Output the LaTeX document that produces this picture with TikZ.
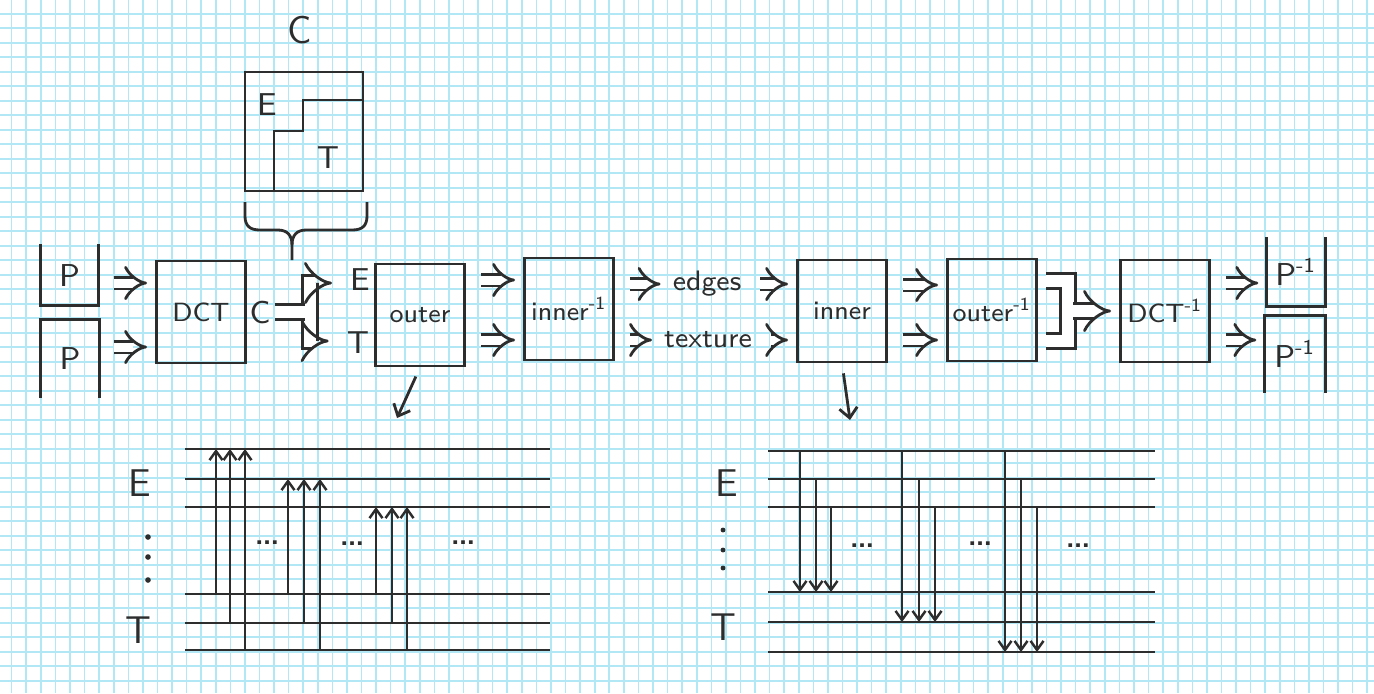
\documentclass[tikz,border=0pt]{standalone}
\usepackage{amsmath}
\usepackage{tikz}
\usetikzlibrary{arrows.meta,calc}
\definecolor{ink}{RGB}{45,45,45}
\definecolor{gridblue}{RGB}{178,232,245}

\begin{document}
\begin{tikzpicture}[x=0.01cm,y=-0.01cm,
    pen/.style={draw=ink, line width=0.8pt},
    box/.style={pen, minimum width=0.89cm, minimum height=1.02cm, inner sep=0pt, font=\sffamily\fontsize{7.5}{9}\selectfont, text=ink},
    openbox/.style={minimum width=0.57cm, minimum height=0.6cm, inner sep=0pt, font=\sffamily\fontsize{9}{11}\selectfont, text=ink},
    word/.style={inner sep=1pt, font=\sffamily\fontsize{8}{10}\selectfont, text=ink},
    dots/.style={inner sep=1pt, font=\sffamily\fontsize{13}{15}\selectfont, text=ink},
    letter/.style={inner sep=1pt, font=\sffamily\fontsize{9}{11}\selectfont, text=ink},
    bigletter/.style={inner sep=1pt, font=\sffamily\fontsize{11}{13}\selectfont, text=ink},
    dbl/.style={pen, double=white, double distance=0.09cm, -{Implies}, shorten <=0.15cm, shorten >=0.08cm},
    dblwide/.style={pen, double=white, double distance=0.12cm},
    thinarrow/.style={pen, -{Straight Barb[length=0.1cm,width=0.18cm]}, shorten <=0.1cm},
    tick/.style={draw=ink, line width=0.7pt, -{Straight Barb[length=0.09cm,width=0.13cm]}},
    rule/.style={draw=ink, line width=0.7pt},
    gridline/.style={draw=gridblue, line width=0.45pt},
]
    \useasboundingbox (0,0) rectangle (1374,693);
    \fill[white] (0,0) rectangle (1374,693);
    % squared paper
    \foreach \i in {0,...,93}
        \draw[gridline] ({11.7+14.575*\i},0) -- ({11.7+14.575*\i},693);
    \foreach \i in {0,...,46}
        \draw[gridline] (0,{13.7+14.5*\i}) -- (1374,{13.7+14.5*\i});

    % the coefficient block C
    \node[bigletter] (ctitle) at (300,30) {C};
    \node[pen, minimum width=1.18cm, minimum height=1.19cm] (cbox) at (304,131.5) {};
    \draw[pen] (274,191) -- (274,131) -- (303,131) -- (303,100) -- (cbox.east |- 0,100);
    \node[letter] (cboxE) at (267,105) {E};
    \node[letter] (cboxT) at (328,158) {T};
    \draw[pen] (245,202) -- (245,216) .. controls (245,226) and (250,230) .. (260,230) -- (278,230) .. controls (287,230) and (292,235) .. (292,245) -- (292,260);
    \draw[pen] (367,202) -- (367,216) .. controls (367,226) and (362,230) .. (352,230) -- (306,230) .. controls (297,230) and (292,235) .. (292,245);

    % main row
    \node[openbox] (pbox1) at (69.5,275) {P};
    \node[openbox, minimum height=0.77cm] (pbox2) at (70,358.5) {P};
    \draw[pen] (pbox1.north west) -- (pbox1.south west) -- (pbox1.south east) -- (pbox1.north east);
    \draw[pen] (pbox2.south west) -- (pbox2.north west) -- (pbox2.north east) -- (pbox2.south east);
    \node[box] (dct) at (201,312) {DCT};
    \node[letter] (cout) at (260,312) {C};
    \coordinate (split) at (310,312);
    \node[letter] (toE) at (360,280) {E};
    \node[letter] (toT) at (358,343) {T};
    \node[box] (outer) at (420,315) {outer};
    \node[box] (innerinv) at (569,309) {inner\textsuperscript{-1}};
    \node[word] (edges) at (707,284) {edges};
    \node[word] (texture) at (708,340) {texture};
    \node[box] (inner) at (842,311) {inner};
    \node[box] (outerinv) at (992,310) {outer\textsuperscript{-1}};
    \coordinate (merge) at (1068,311);
    \node[box] (dctinv) at (1165,311) {DCT\textsuperscript{-1}};
    \node[openbox, minimum width=0.58cm, minimum height=0.68cm] (pinv1) at (1296,272) {P\textsuperscript{-1}};
    \node[openbox, minimum width=0.6cm, minimum height=0.76cm] (pinv2) at (1295,354) {P\textsuperscript{-1}};
    \draw[pen] (pinv1.north west) -- (pinv1.south west) -- (pinv1.south east) -- (pinv1.north east);
    \draw[pen] (pinv2.south west) -- (pinv2.north west) -- (pinv2.north east) -- (pinv2.south east);

    \draw[dbl] (pbox1.east |- 0,283) -- (dct.west |- 0,283);
    \draw[dbl] (pbox2.east |- 0,347) -- (dct.west |- 0,347);
    \draw[dblwide, {Implies}-{Implies}, shorten <=0.14cm, shorten >=0.14cm] (toE.west |- 0,283) -| (split) |- (toT.west |- 0,341);
    \draw[dblwide, shorten >=0.055cm] (cout.east) -- (split);
    \draw[dbl] (outer.east |- 0,280) -- (innerinv.west |- 0,280);
    \draw[dbl] (outer.east |- 0,340) -- (innerinv.west |- 0,340);
    \draw[dbl] (innerinv.east |- edges) -- (edges.west);
    \draw[dbl] (innerinv.east |- texture) -- (texture.west);
    \draw[dbl] (edges.east) -- (inner.west |- edges);
    \draw[dbl] (texture.east) -- (inner.west |- texture);
    \draw[dbl] (inner.east |- 0,285) -- (outerinv.west |- 0,285);
    \draw[dbl] (inner.east |- 0,340) -- (outerinv.west |- 0,340);
    \draw[dblwide, shorten <=0.08cm, shorten >=0.08cm] (outerinv.east |- 0,281) -| (merge) |- (outerinv.east |- 0,341);
    \draw[dblwide, -{Implies}, shorten >=0.08cm] ($(merge)+(5,0)$) -- (dctinv.west);
    \draw[dbl] (dctinv.east |- 0,283) -- (pinv1.west |- 0,283);
    \draw[dbl] (dctinv.east |- 0,340) -- (pinv2.west |- 0,340);

    % outer transform, bottom left
    \coordinate (outerdown) at (397,418);
    \draw[thinarrow] (outer.south) -- (outerdown);
    \foreach \y [count=\i] in {449,479,507,594,623,650}
        \draw[rule] (185,\y) coordinate (ol\i) -- (550,\y);
    \node[bigletter] (olE) at (140,483) {E};
    \node[bigletter] (olT) at (138,630) {T};
    \foreach \y in {537,557,580}
        \fill[ink] (148,\y) circle (0.8pt);
    \foreach \x/\a/\b in {216/4/1,230/5/1,245/6/1,288/4/2,304/5/2,320/6/2,376/4/3,392/5/3,407/6/3}
        \draw[tick] (\x,0 |- ol\a) -- (\x,0 |- ol\b);
    \node[dots] (oldots1) at (267,543) {\dots};
    \node[dots] (oldots2) at (352,544) {\dots};
    \node[dots] (oldots3) at (463,543) {\dots};

    % inner transform, bottom right
    \coordinate (innerdown) at (850,420);
    \draw[thinarrow] (inner.south) -- (innerdown);
    \foreach \y [count=\i] in {451,479,507,592,622,652}
        \draw[rule] (768,\y) coordinate (il\i) -- (1155,\y);
    \node[bigletter] (ilE) at (727,483) {E};
    \node[bigletter] (ilT) at (723,627) {T};
    \foreach \y in {530,550,568}
        \fill[ink] (723,\y) circle (0.7pt);
    \foreach \x/\a/\b in {800/1/4,816/2/4,831/3/4,902/1/5,919/2/5,935/3/5,1005/1/6,1021/2/6,1037/3/6}
        \draw[tick] (\x,0 |- il\a) -- (\x,0 |- il\b);
    \node[dots] (ildots1) at (862,546) {\dots};
    \node[dots] (ildots2) at (980,544) {\dots};
    \node[dots] (ildots3) at (1078,546) {\dots};
\end{tikzpicture}
\end{document}
